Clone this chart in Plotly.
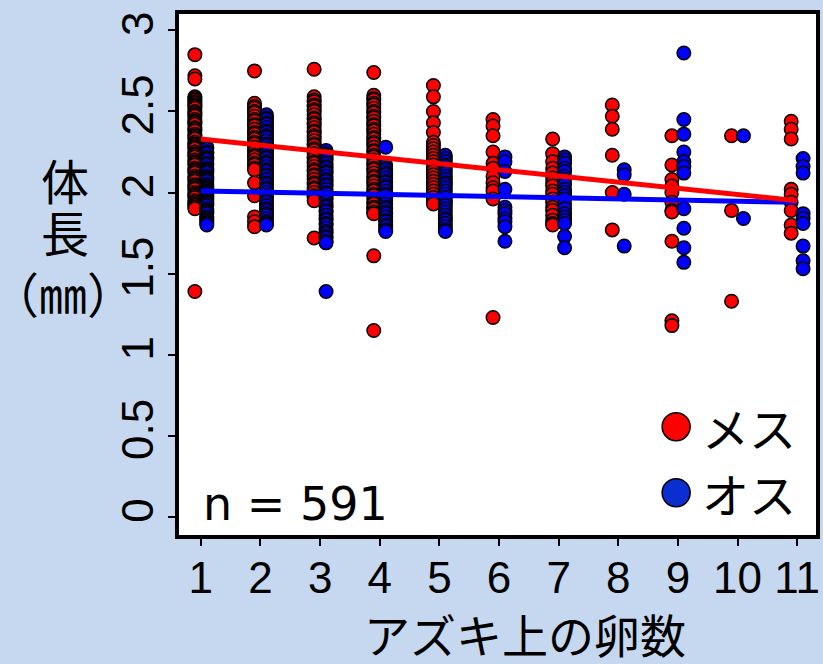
import plotly.graph_objects as go

# ---- data (body length in mm, by number of eggs on the azuki bean) ----
egg_counts = [1, 2, 3, 4, 5, 6, 7, 8, 9, 10, 11]

female_1 = [2.85, 2.72, 2.70, 2.59, 2.58, 2.57, 2.56, 2.55, 2.54, 2.53, 2.52, 2.50, 2.49, 2.48, 2.47, 2.45,
            2.44, 2.43, 2.42, 2.40, 2.39, 2.38, 2.36, 2.35, 2.34, 2.33, 2.31, 2.30, 2.29, 2.28, 2.27, 2.25,
            2.24, 2.23, 2.22, 2.20, 2.19, 2.18, 2.17, 2.15, 2.14, 2.13, 2.12, 2.10, 2.09, 2.08, 2.07, 2.05,
            2.04, 2.03, 2.02, 2.00, 1.99, 1.98, 1.97, 1.95, 1.94, 1.93, 1.92, 1.91, 1.90, 1.39]
female_2 = [2.75, 2.55, 2.53, 2.52, 2.50, 2.49, 2.47, 2.45, 2.44, 2.42, 2.41, 2.39, 2.37, 2.36, 2.34, 2.33,
            2.31, 2.30, 2.28, 2.26, 2.25, 2.23, 2.22, 2.20, 2.18, 2.17, 2.15, 2.14, 2.06, 1.98, 1.85, 1.82, 1.79]
female_3 = [2.76, 2.59, 2.57, 2.56, 2.54, 2.53, 2.51, 2.50, 2.48, 2.46, 2.45, 2.43, 2.42, 2.40, 2.38, 2.37,
            2.35, 2.34, 2.32, 2.30, 2.29, 2.27, 2.26, 2.24, 2.22, 2.21, 2.19, 2.18, 2.16, 2.14, 2.13, 2.11,
            2.10, 2.08, 2.06, 2.05, 2.03, 2.02, 2.00, 1.98, 1.97, 1.95, 1.72]
female_4 = [2.74, 2.60, 2.58, 2.57, 2.55, 2.54, 2.52, 2.50, 2.49, 2.47, 2.46, 2.44, 2.42, 2.41, 2.39, 2.38,
            2.36, 2.34, 2.33, 2.31, 2.30, 2.28, 2.26, 2.25, 2.23, 2.22, 2.20, 2.18, 2.17, 2.15, 2.14, 2.12,
            2.10, 2.09, 2.07, 2.06, 2.04, 2.02, 2.01, 1.99, 1.98, 1.96, 1.94, 1.93, 1.91, 1.90, 1.88, 1.87,
            1.61, 1.15]
female_5 = [2.66, 2.59, 2.50, 2.43, 2.37, 2.31, 2.29, 2.27, 2.25, 2.23, 2.21, 2.19, 2.17, 2.15, 2.13, 2.11,
            2.09, 2.07, 2.05, 2.03, 2.01, 1.99, 1.97, 1.95, 1.93]
female_6 = [2.45, 2.41, 2.35, 2.25, 2.18, 2.15, 2.10, 2.06, 2.03, 2.01, 1.96, 1.23]
female_7 = [2.33, 2.24, 2.19, 2.15, 2.12, 2.09, 2.06, 2.04, 2.01, 1.99, 1.96, 1.94, 1.91, 1.89, 1.86, 1.83,
            1.81, 1.80]
female_8 = [2.54, 2.47, 2.39, 2.23, 2.00, 1.77]
female_9 = [2.35, 2.17, 2.08, 2.04, 2.00, 1.94, 1.89, 1.88, 1.70, 1.21, 1.18]
female_10 = [2.35, 1.89, 1.33]
female_11 = [2.44, 2.39, 2.33, 2.02, 1.99, 1.94, 1.89, 1.80, 1.75]

male_1 = [2.28, 2.27, 2.25, 2.24, 2.22, 2.21, 2.20, 2.18, 2.17, 2.15, 2.14, 2.13, 2.12, 2.10, 2.09, 2.08,
          2.07, 2.05, 2.04, 2.03, 2.02, 2.01, 2.00, 1.99, 1.98, 1.97, 1.96, 1.95, 1.94, 1.93, 1.92, 1.90,
          1.89, 1.88, 1.87, 1.85, 1.84, 1.83, 1.82, 1.81, 1.80]
male_2 = [2.48, 2.46, 2.45, 2.43, 2.42, 2.40, 2.38, 2.37, 2.35, 2.34, 2.32, 2.30, 2.29, 2.27, 2.26, 2.24,
          2.22, 2.21, 2.19, 2.18, 2.16, 2.14, 2.13, 2.11, 2.10, 2.08, 2.06, 2.05, 2.03, 2.02, 2.00, 1.98,
          1.97, 1.95, 1.94, 1.92, 1.90, 1.89, 1.87, 1.86, 1.84, 1.82, 1.81, 1.80]
male_3 = [2.26, 2.24, 2.23, 2.21, 2.20, 2.18, 2.16, 2.15, 2.13, 2.12, 2.10, 2.08, 2.07, 2.05, 2.04, 2.02,
          2.00, 1.99, 1.97, 1.96, 1.94, 1.92, 1.91, 1.89, 1.88, 1.86, 1.84, 1.83, 1.81, 1.80, 1.78, 1.76,
          1.75, 1.73, 1.72, 1.70, 1.69, 1.39]
male_4 = [2.28, 2.17, 2.15, 2.14, 2.12, 2.11, 2.09, 2.07, 2.06, 2.04, 2.03, 2.01, 1.99, 1.98, 1.96, 1.95,
          1.93, 1.91, 1.90, 1.88, 1.87, 1.85, 1.83, 1.82, 1.80, 1.79, 1.77, 1.76]
male_5 = [2.23, 2.21, 2.19, 2.17, 2.16, 2.14, 2.12, 2.10, 2.08, 2.06, 2.05, 2.03, 2.01, 1.99, 1.97, 1.95,
          1.94, 1.92, 1.90, 1.88, 1.86, 1.84, 1.83, 1.81, 1.79, 1.77, 1.76]
male_6 = [2.22, 2.19, 2.13, 2.02, 1.91, 1.89, 1.87, 1.84, 1.82, 1.79, 1.70]
male_7 = [2.22, 2.20, 2.18, 2.15, 2.13, 2.10, 2.08, 2.05, 2.02, 2.00, 1.98, 1.96, 1.93, 1.90, 1.87, 1.85,
          1.83, 1.81, 1.73, 1.66]
male_8 = [2.14, 2.11, 1.99, 1.67]
male_9 = [2.86, 2.45, 2.36, 2.25, 2.19, 2.16, 2.12, 1.90, 1.78, 1.66, 1.57]
male_10 = [2.35, 1.84]
male_11 = [2.21, 2.16, 2.12, 1.87, 1.84, 1.81, 1.67, 1.58, 1.53]

# regression lines (endpoints at 1 and 11 eggs)
fit_x = [1, 11]
fit_female = [2.33, 1.95]
fit_male = [2.01, 1.94]

y_ticks = [0, 0.5, 1, 1.5, 2, 2.5, 3]
y_tick_text = ["0", "0.5", "1", "1.5", "2", "2.5", "3"]
x_ticks = egg_counts
x_tick_text = [str(v) for v in egg_counts]

sample_text = "n = 591"
x_title = "アズキ上の卵数"
y_title_lines = ["体", "長", "（㎜）"]
legend_names = ["メス", "オス"]

females = [female_1, female_2, female_3, female_4, female_5, female_6,
           female_7, female_8, female_9, female_10, female_11]
males = [male_1, male_2, male_3, male_4, male_5, male_6,
         male_7, male_8, male_9, male_10, male_11]

# ---- build ----
RED = "#ff0000"
BLUE = "#0000ff"
LEG_BLUE = "#0a2ecf"
BG = "#c6d8ef"
TICK_FONT = dict(family="Liberation Sans, Arial, sans-serif", size=44, color="black")
JP_FONT = "Noto Sans CJK JP, sans-serif"

fx, fy, mx, my = [], [], [], []
for e, vals in zip(egg_counts, females):
    fx += [e - 0.1] * len(vals)
    fy += vals
for e, vals in zip(egg_counts, males):
    mx += [e + 0.1] * len(vals)
    my += vals

fig = go.Figure()
fig.add_trace(go.Scatter(x=fx, y=fy, mode="markers", name=legend_names[0], showlegend=False,
                         marker=dict(size=13.5, color=RED, line=dict(color="black", width=1.5))))
fig.add_trace(go.Scatter(x=mx, y=my, mode="markers", name=legend_names[1], showlegend=False,
                         marker=dict(size=13.5, color=BLUE, line=dict(color="black", width=1.5))))
fig.add_trace(go.Scatter(x=fit_x, y=fit_male, mode="lines", showlegend=False,
                         line=dict(color=BLUE, width=5)))
fig.add_trace(go.Scatter(x=fit_x, y=fit_female, mode="lines", showlegend=False,
                         line=dict(color=RED, width=5)))

L, R, T, B = 177, 3, 12, 127
W, H = 823, 664
pw, ph = W - L - R, H - T - B

def px(x):
    return (x - L) / pw

def py(y):
    return (H - B - y) / ph

shapes = [dict(type="rect", xref="paper", yref="paper", x0=0, y0=0, x1=1, y1=1,
               line=dict(color="black", width=4), layer="above")]
annotations = []
# manual legend
for i, (name, col) in enumerate(zip(legend_names, [RED, LEG_BLUE])):
    cy = [426.7, 492.7][i]
    shapes.append(dict(type="circle", xref="paper", yref="paper", xsizemode="pixel", ysizemode="pixel",
                       xanchor=px(677.7), yanchor=py(cy), x0=-14, x1=14, y0=-14, y1=14,
                       fillcolor=col, line=dict(color="black", width=1.5), layer="above"))
    annotations.append(dict(xref="paper", yref="paper", x=px(702), y=py(cy), xanchor="left", yanchor="middle",
                            text=name, showarrow=False, font=dict(family=JP_FONT, size=47, color="black")))

annotations.append(dict(xref="paper", yref="paper", x=px(201), y=py(504), xanchor="left", yanchor="middle",
                        text=sample_text, showarrow=False,
                        font=dict(family="DejaVu Sans, sans-serif", size=46, color="black")))
annotations.append(dict(xref="paper", yref="paper", x=px(526), y=py(633), xanchor="center", yanchor="middle",
                        text=x_title, showarrow=False, font=dict(family=JP_FONT, size=46, color="black")))
for txt, cx, cy in zip(y_title_lines, [65, 65, 63], [179, 231, 292]):
    annotations.append(dict(xref="paper", yref="paper", x=px(cx), y=py(cy), xanchor="center", yanchor="middle",
                            text=txt, showarrow=False, font=dict(family=JP_FONT, size=48, color="black")))

fig.update_layout(
    width=W, height=H, autosize=False,
    margin=dict(l=L, r=R, t=T, b=B, pad=0),
    paper_bgcolor=BG, plot_bgcolor="white",
    shapes=shapes, annotations=annotations,
    xaxis=dict(range=[0.6, 11.35], tickmode="array", tickvals=x_ticks, ticktext=x_tick_text,
               showgrid=False, zeroline=False, showline=False, ticks="outside", ticklen=8,
               tickwidth=1.5, tickcolor="black", tickfont=TICK_FONT, ticklabelstandoff=-6),
    yaxis=dict(range=[-0.123, 3.113], tickmode="array", tickvals=y_ticks, ticktext=y_tick_text,
               showgrid=False, zeroline=False, showline=False, ticks="outside", ticklen=8,
               tickwidth=1.5, tickcolor="black", tickfont=TICK_FONT, tickangle=-90,
               ticklabelstandoff=-3),
)

fig.write_html("out.html", config={"displayModeBar": False},
               post_script="document.body.style.margin='0';document.body.style.overflow='hidden';")
